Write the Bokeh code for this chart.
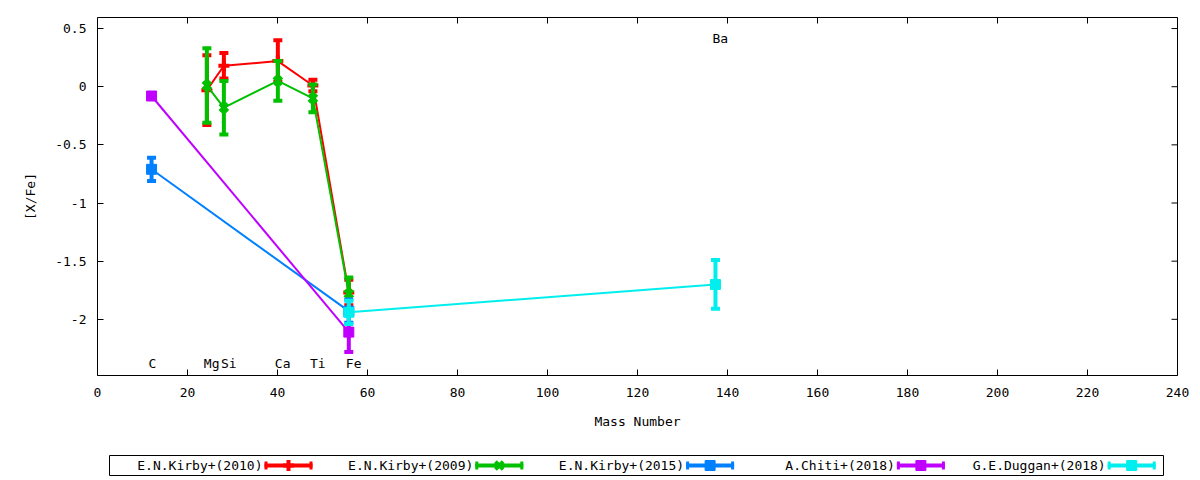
from bokeh.plotting import figure
from bokeh.models import Range1d, FixedTicker
from bokeh.layouts import column
from bokeh.embed import file_html
from bokeh.resources import INLINE
from bokeh.core.properties import value
import math

FONT = "DejaVu Sans Mono"
FS = "13px"

# ---------------- data ----------------
elements = ["C", "Mg", "Si", "Ca", "Ti", "Fe", "Ba"]
element_mass = [12.011, 24.305, 28.086, 40.078, 47.867, 55.845, 137.327]
element_label_y = [-2.4, -2.4, -2.4, -2.4, -2.4, -2.4, 0.4]

kirby2010_mass = [24.305, 28.086, 40.078, 47.867, 55.845]
kirby2010_xfe = [-0.03, 0.18, 0.22, 0.01, -1.77]
kirby2010_err = [0.30, 0.11, 0.18, 0.05, 0.11]

kirby2009_mass = [24.305, 28.086, 40.078, 47.867, 55.845]
kirby2009_xfe = [0.01, -0.18, 0.05, -0.10, -1.78]
kirby2009_err = [0.32, 0.23, 0.17, 0.12, 0.14]

kirby2015_mass = [12.011, 55.845]
kirby2015_xfe = [-0.71, -1.93]
kirby2015_err = [0.10, 0.10]

chiti2018_mass = [12.011, 55.845]
chiti2018_xfe = [-0.08, -2.11]
chiti2018_err = [0.0, 0.17]

duggan2018_mass = [55.845, 137.327]
duggan2018_xfe = [-1.94, -1.70]
duggan2018_err = [0.10, 0.21]

series_labels = ["E.N.Kirby+(2010)", "E.N.Kirby+(2009)", "E.N.Kirby+(2015)",
                 "A.Chiti+(2018)", "G.E.Duggan+(2018)"]
series_colors = ["#ff0000", "#00c000", "#0080ff", "#c000ff", "#00eeee"]
series_markers = ["cross", "x", "square", "square", "square"]
series_data = [
    (kirby2010_mass, kirby2010_xfe, kirby2010_err),
    (kirby2009_mass, kirby2009_xfe, kirby2009_err),
    (kirby2015_mass, kirby2015_xfe, kirby2015_err),
    (chiti2018_mass, chiti2018_xfe, chiti2018_err),
    (duggan2018_mass, duggan2018_xfe, duggan2018_err),
]

x_ticks = list(range(0, 241, 20))
y_ticks = [0.5, 0, -0.5, -1, -1.5, -2]
y_tick_labels = ["0.5", "0", "-0.5", "-1", "-1.5", "-2"]

X_MIN, X_MAX = 0, 240
Y_MIN, Y_MAX = -2.483, 0.595

# ---------------- main plot ----------------
FRAME_L, FRAME_R = 97, 1177
p = figure(width=1192, height=440,
           x_range=Range1d(X_MIN, X_MAX), y_range=Range1d(Y_MIN, Y_MAX),
           output_backend="svg", toolbar_location=None,
           min_border_left=FRAME_L, min_border_right=1192 - FRAME_R,
           min_border_top=17, min_border_bottom=65)
p.xgrid.visible = False
p.ygrid.visible = False
p.outline_line_color = "black"
p.outline_line_width = 1
p.background_fill_color = "white"
p.border_fill_color = "white"


def style_axis(ax, ticks):
    ax.ticker = FixedTicker(ticks=ticks)
    ax.major_tick_in = 6
    ax.major_tick_out = 0
    ax.minor_tick_in = 0
    ax.minor_tick_out = 0
    ax.axis_line_color = None
    ax.major_tick_line_color = "black"
    ax.major_tick_line_width = 1
    ax.major_label_text_font = FONT
    ax.major_label_text_font_size = FS
    ax.major_label_text_color = "black"
    ax.axis_label_text_font = FONT
    ax.axis_label_text_font_size = FS
    ax.axis_label_text_font_style = "normal"
    ax.axis_label_text_color = "black"


xa = p.xaxis[0]
style_axis(xa, x_ticks)
xa.major_label_standoff = 12
xa.axis_label = "Mass Number"
xa.axis_label_standoff = 14

ya = p.yaxis[0]
style_axis(ya, y_ticks)
ya.major_label_overrides = {t: l for t, l in zip(y_ticks, y_tick_labels)}
ya.major_label_standoff = 11
ya.axis_label = "[X/Fe]"
ya.axis_label_standoff = 14

# mirrored inward ticks on top and right edges (outer half is clipped by the frame)
p.scatter(x_ticks, [Y_MAX] * len(x_ticks), marker="dash", angle=math.pi / 2,
          size=12, line_color="black", line_width=1)
p.scatter([X_MAX] * len(y_ticks), y_ticks, marker="dash",
          size=12, line_color="black", line_width=1)

for (mass, xfe, err), col, mk in zip(series_data, series_colors, series_markers):
    lo = [v - e for v, e in zip(xfe, err)]
    hi = [v + e for v, e in zip(xfe, err)]
    p.line(mass, xfe, line_color=col, line_width=2)
    p.segment(x0=mass, y0=lo, x1=mass, y1=hi, line_color=col, line_width=4)
    p.scatter(mass, lo, marker="dash", size=9, line_color=col, line_width=4)
    p.scatter(mass, hi, marker="dash", size=9, line_color=col, line_width=4)
    if mk == "square":
        p.scatter(mass, xfe, marker="square", size=10, fill_color=col, line_color=col, line_width=1)
    else:
        p.scatter(mass, xfe, marker=mk, size=11, line_color=col, line_width=4)

p.text(x=element_mass, y=element_label_y, text=elements,
       text_font=value(FONT), text_font_size=value(FS), text_color="black",
       text_align="left", text_baseline="middle", x_offset=-3, y_offset=-2)

# ---------------- legend strip (frame aligned with main plot, data x = page x) ----------------
leg = figure(width=1192, height=38, x_range=Range1d(FRAME_L, FRAME_R), y_range=Range1d(478, 440),
             output_backend="svg", toolbar_location=None,
             min_border_left=FRAME_L, min_border_right=1192 - FRAME_R,
             min_border_top=0, min_border_bottom=0,
             x_axis_location=None, y_axis_location=None)
leg.xgrid.visible = False
leg.ygrid.visible = False
leg.outline_line_color = None
leg.background_fill_color = "white"
leg.border_fill_color = "white"

box_l, box_r, box_t, box_b = 109, 1163, 455, 475
leg.quad(left=[box_l], right=[box_r], top=[box_t], bottom=[box_b],
         fill_color=None, line_color="black", line_width=1)
item_w = (box_r - box_l) / len(series_labels)
yc = (box_t + box_b) / 2
for i, (lab, col, mk) in enumerate(zip(series_labels, series_colors, series_markers)):
    x0 = box_l + i * item_w
    leg.text(x=[x0 + 153], y=[yc], text=[lab], text_font=value(FONT),
             text_font_size=value(FS), text_color="black",
             text_align="right", text_baseline="middle")
    s0, s1 = x0 + 155, x0 + 203
    leg.segment(x0=[s0], y0=[yc], x1=[s1], y1=[yc], line_color=col, line_width=4)
    leg.segment(x0=[s0 + 1.5, s1 - 1.5], y0=[yc - 4, yc - 4], x1=[s0 + 1.5, s1 - 1.5],
                y1=[yc + 4, yc + 4], line_color=col, line_width=3)
    xm = (s0 + s1) / 2
    if mk == "square":
        leg.scatter([xm], [yc], marker="square", size=10, fill_color=col, line_color=col)
    else:
        leg.scatter([xm], [yc], marker=mk, size=11, line_color=col, line_width=4)

layout = column(p, leg, spacing=0)
open("out.html", "w").write(file_html(layout, INLINE))
